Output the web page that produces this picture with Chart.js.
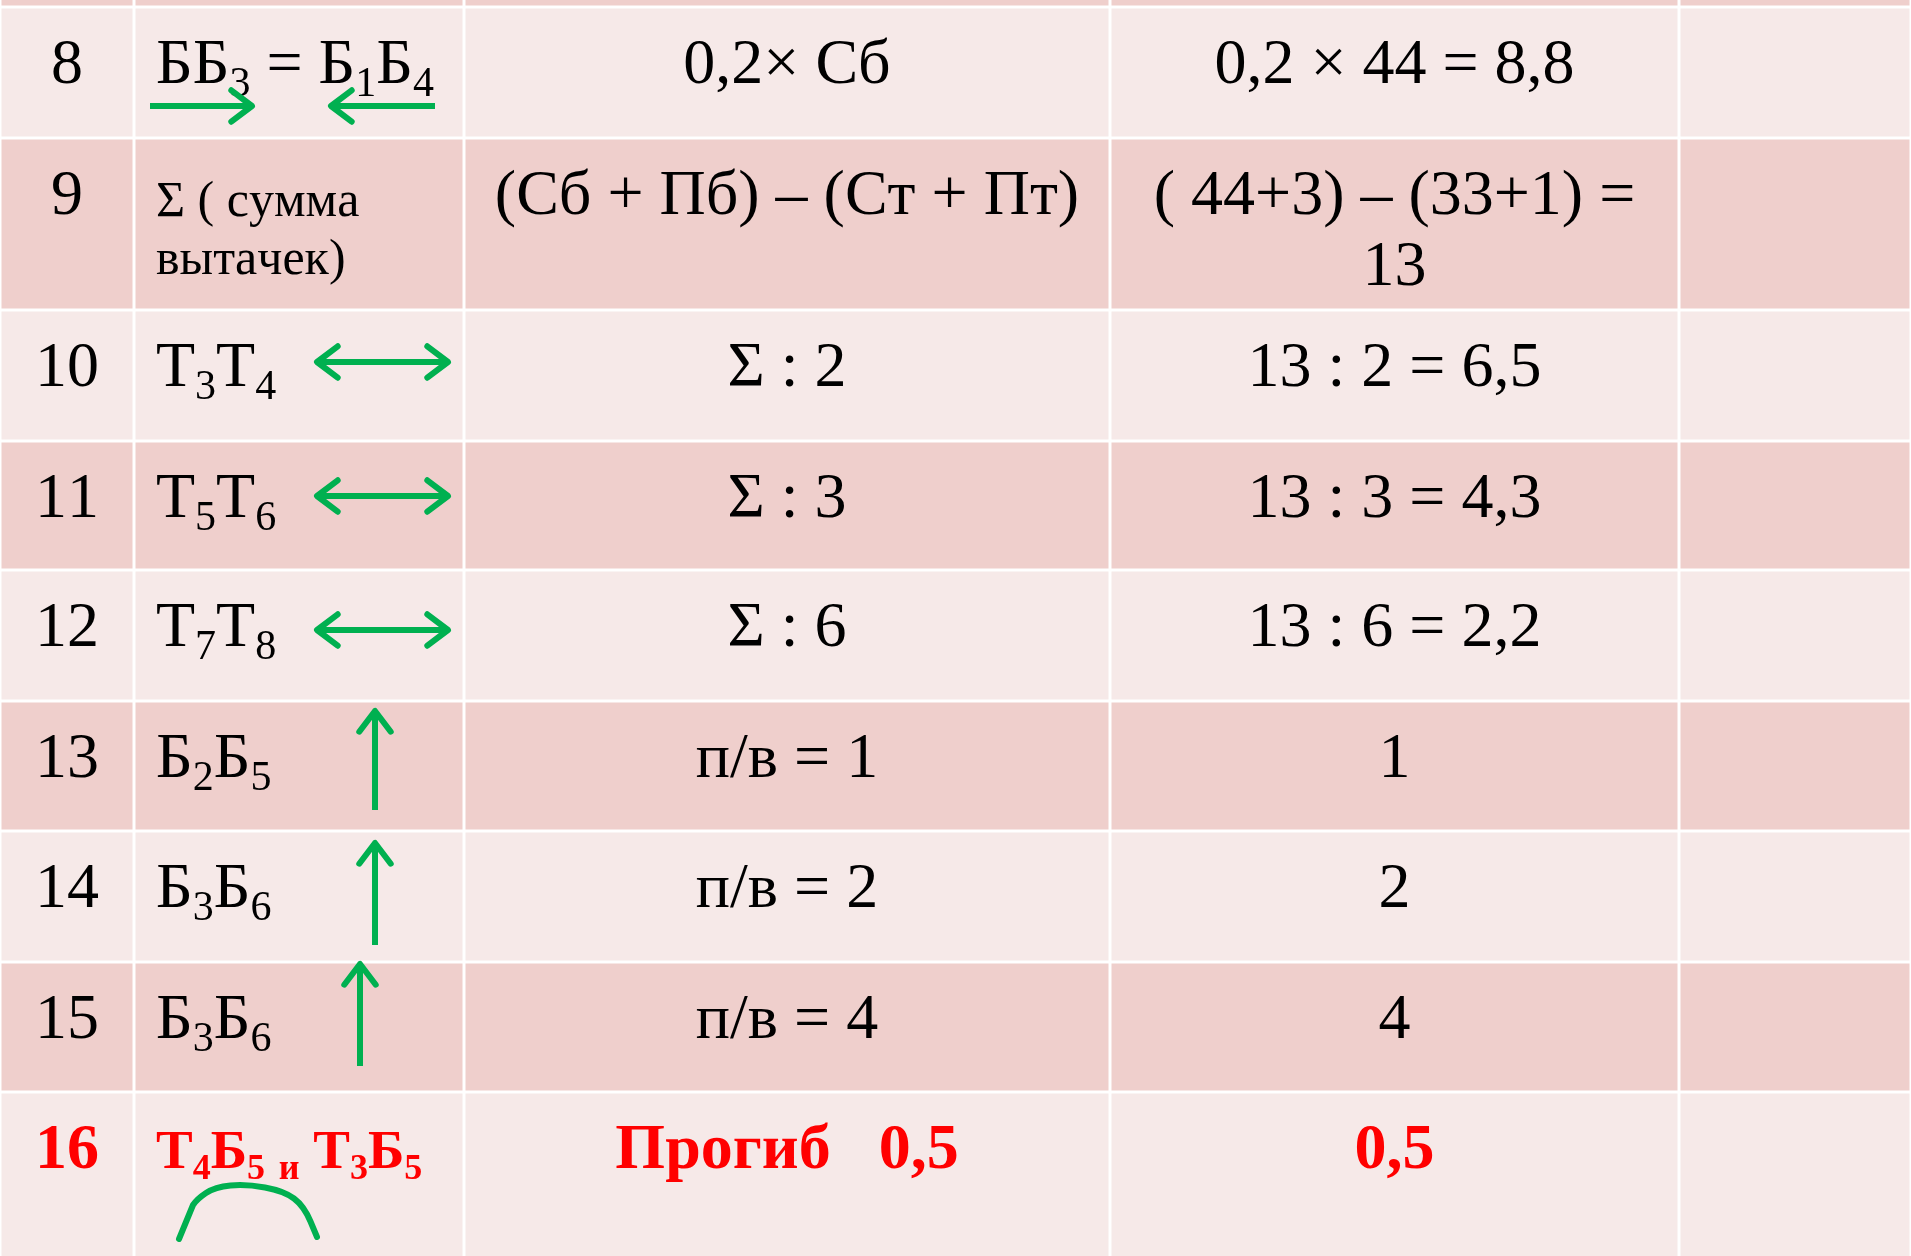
<html>
<head>
  <title>Таблица</title>
  <script src="https://cdn.jsdelivr.net/npm/chart.js"></script>
  <style>
    body { margin: 0; background: #fff; overflow: hidden; }
  </style>
</head>
<body>
  <canvas id="tableChart" width="1911" height="1256"></canvas>

  <script>
    // содержимое таблицы (строки 8-16)
    const rowNumbers = ['8', '9', '10', '11', '12', '13', '14', '15', '16'];
    // "_" = следующий символ индексом, "|" = перенос строки
    const segmentNames = ['ББ_3 = Б_1Б_4', 'Σ ( сумма|вытачек)', 'Т_3Т_4', 'Т_5Т_6', 'Т_7Т_8', 'Б_2Б_5', 'Б_3Б_6', 'Б_3Б_6', 'Т_4Б_5 _и Т_3Б_5'];
    const formulas = ['0,2× Сб', '(Сб + Пб) – (Ст + Пт)', 'Σ : 2', 'Σ : 3', 'Σ : 6', 'п/в = 1', 'п/в = 2', 'п/в = 4', 'Прогиб   0,5'];
    const results = ['0,2 × 44 = 8,8', '( 44+3) – (33+1) =|13', '13 : 2 = 6,5', '13 : 3 = 4,3', '13 : 6 = 2,2', '1', '2', '4', '0,5'];
    const redRow = '16';

    // разметка в единицах шкал (первая полоска - остаток строки 7)
    const colEdges = [0, 134, 464, 1110, 1679, 1911];
    const rowEdges = [-126, 7, 138, 310, 441, 570, 701, 831, 962, 1092, 1300];

    const GREEN = '#00B050';
    const RED = '#FF0000';
    const LIGHT = '#F6E9E8';
    const DARK = '#EFCFCC';
    const FONT = '"Liberation Serif", "Times New Roman", serif';

    // стрелки внутри столбца 1: [строка, тип, x1, y1, x2, y2] (y от верха строки)
    const arrows = [
      ['8', 'right', 150, 99, 252, 99],
      ['8', 'left', 435, 99, 331, 99],
      ['10', 'both', 317, 52, 448, 52],
      ['11', 'both', 317, 55, 448, 55],
      ['12', 'both', 317, 60, 448, 60],
      ['13', 'up', 375, 109, 375, 10],
      ['14', 'up', 375, 114, 375, 12],
      ['15', 'up', 360, 104, 360, 2]
    ];
    const arcPoints = [[179, 147], [197, 107], [215, 95], [246, 92], [284, 99], [304, 114], [317, 145]];

    function drawRich(ctx, text, x, y, size, weight, align) {
      const parts = [];
      for (let i = 0; i < text.length; i++) {
        if (text[i] === '_' && i + 1 < text.length) {
          parts.push({ t: text[i + 1], sub: true });
          i++;
        } else {
          parts.push({ t: text[i], sub: false });
        }
      }
      const subSize = Math.round(size * 0.66);
      let total = 0;
      parts.forEach(p => {
        ctx.font = weight + ' ' + (p.sub ? subSize : size) + 'px ' + FONT;
        p.w = ctx.measureText(p.t).width;
        total += p.w;
      });
      let cx = align === 'center' ? x - total / 2 : x;
      parts.forEach(p => {
        ctx.font = weight + ' ' + (p.sub ? subSize : size) + 'px ' + FONT;
        ctx.fillText(p.t, cx, p.sub ? y + size * 0.2 : y);
        cx += p.w;
      });
    }

    function head(ctx, x, y, ang) {
      const len = 26, spread = 0.65;
      ctx.beginPath();
      ctx.moveTo(x - len * Math.cos(ang - spread), y - len * Math.sin(ang - spread));
      ctx.lineTo(x, y);
      ctx.lineTo(x - len * Math.cos(ang + spread), y - len * Math.sin(ang + spread));
      ctx.stroke();
    }

    const tablePlugin = {
      id: 'tableCells',
      beforeDatasetsDraw(chart) {
        const { ctx, scales: { x, y } } = chart;
        ctx.save();
        for (let r = 0; r < rowEdges.length - 1; r++) {
          const top = y.getPixelForValue(rowEdges[r]);
          const bottom = y.getPixelForValue(rowEdges[r + 1]);
          ctx.fillStyle = r % 2 === 0 ? DARK : LIGHT;
          for (let c = 0; c < colEdges.length - 1; c++) {
            const left = x.getPixelForValue(colEdges[c]);
            const right = x.getPixelForValue(colEdges[c + 1]);
            ctx.fillRect(left + 1.5, top + 1.5, right - left - 3, bottom - top - 3);
          }
        }
        ctx.restore();
      },
      afterDatasetsDraw(chart) {
        const { ctx, scales: { x, y } } = chart;
        ctx.save();
        ctx.textBaseline = 'alphabetic';
        rowNumbers.forEach((num, i) => {
          const top = rowEdges[i + 1];
          const red = num === redRow;
          const w = red ? 'bold' : 'normal';
          ctx.fillStyle = red ? RED : '#000';
          const base = y.getPixelForValue(top + 76);
          const mid = c => x.getPixelForValue((colEdges[c] + colEdges[c + 1]) / 2);

          drawRich(ctx, num, mid(0), base, 64, w, 'center');

          const names = segmentNames[i].split('|');
          if (names.length > 1) {
            names.forEach((t, k) => drawRich(ctx, t, x.getPixelForValue(156), y.getPixelForValue(top + 78 + k * 58), 50, w, 'left'));
          } else {
            drawRich(ctx, names[0], x.getPixelForValue(156), base, red ? 55 : 64, w, 'left');
          }

          drawRich(ctx, formulas[i], mid(2), base, 64, w, 'center');
          results[i].split('|').forEach((t, k) => {
            drawRich(ctx, t, mid(3), y.getPixelForValue(top + 76 + k * 71), 64, w, 'center');
          });
        });

        // зелёные стрелки
        ctx.strokeStyle = GREEN;
        ctx.lineWidth = 6;
        ctx.lineJoin = 'round';
        arrows.forEach(([row, kind, x1, y1, x2, y2]) => {
          const top = rowEdges[rowNumbers.indexOf(row) + 1];
          const px1 = x.getPixelForValue(x1), py1 = y.getPixelForValue(top + y1);
          const px2 = x.getPixelForValue(x2), py2 = y.getPixelForValue(top + y2);
          ctx.lineCap = 'butt';
          ctx.beginPath();
          ctx.moveTo(px1, py1);
          ctx.lineTo(px2, py2);
          ctx.stroke();
          ctx.lineCap = 'round';
          const ang = Math.atan2(py2 - py1, px2 - px1);
          head(ctx, px2, py2, ang);
          if (kind === 'both') head(ctx, px1, py1, ang + Math.PI);
        });

        // дуга прогиба
        const top16 = rowEdges[rowNumbers.indexOf('16') + 1];
        const pts = arcPoints.map(([ax, ay]) => [x.getPixelForValue(ax), y.getPixelForValue(top16 + ay)]);
        ctx.lineCap = 'round';
        ctx.beginPath();
        ctx.moveTo(pts[0][0], pts[0][1]);
        for (let k = 1; k < pts.length - 1; k++) {
          const mx = (pts[k][0] + pts[k + 1][0]) / 2, my = (pts[k][1] + pts[k + 1][1]) / 2;
          if (k === 1) ctx.lineTo(pts[k][0] - 4, pts[k][1] + 6);
          ctx.quadraticCurveTo(pts[k][0], pts[k][1], mx, my);
        }
        ctx.lineTo(pts[pts.length - 1][0], pts[pts.length - 1][1]);
        ctx.stroke();
        ctx.restore();
      }
    };

    new Chart(document.getElementById('tableChart'), {
      type: 'scatter',
      data: {
        datasets: [{
          data: rowNumbers.map((n, i) => ({ x: colEdges[0], y: rowEdges[i + 1] })),
          pointRadius: 0
        }]
      },
      options: {
        responsive: false,
        animation: false,
        layout: { padding: 0 },
        plugins: { legend: { display: false }, tooltip: { enabled: false } },
        scales: {
          x: { type: 'linear', min: 0, max: 1911, display: false },
          y: { type: 'linear', min: 0, max: 1256, reverse: true, display: false }
        }
      },
      plugins: [tablePlugin]
    });
  </script>
</body>
</html>
